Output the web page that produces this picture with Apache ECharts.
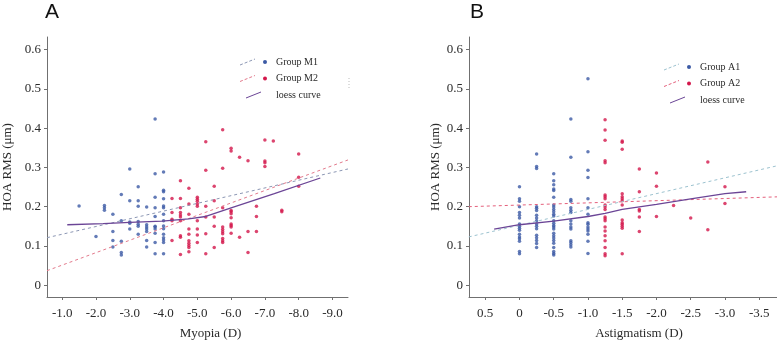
<!DOCTYPE html>
<html>
<head>
<meta charset="utf-8">
<script src="https://cdn.jsdelivr.net/npm/echarts@6/dist/echarts.min.js"></script>
<style>
html,body{margin:0;padding:0;background:#fff;}
#chart{width:777px;height:345px;}
</style>
</head>
<body>
<div id="chart"></div>
<script>
// ---------- Data ----------
const panelTitles = ['A', 'B'];
const xNames = ['Myopia (D)', 'Astigmatism (D)'];
const yName = 'HOA RMS (\u03bcm)';
const legendA = ['Group M1', 'Group M2', 'loess curve'];
const legendB = ['Group A1', 'Group A2', 'loess curve'];

const yTicks = [0, 0.1, 0.2, 0.3, 0.4, 0.5, 0.6];
const xTicksA = [-1, -2, -3, -4, -5, -6, -7, -8, -9];
const xTicksB = [0.5, 0, -0.5, -1, -1.5, -2, -2.5, -3, -3.5];

const groupM1 = [
  [-1.5,0.202],[-2.0,0.124],
  [-2.25,0.203],[-2.25,0.197],[-2.25,0.191],
  [-2.5,0.181],[-2.5,0.137],[-2.5,0.114],[-2.5,0.097],
  [-2.75,0.231],[-2.75,0.164],[-2.75,0.112],[-2.75,0.083],[-2.75,0.077],
  [-3.0,0.296],[-3.0,0.215],[-3.0,0.161],[-3.0,0.158],[-3.0,0.143],
  [-3.25,0.251],[-3.25,0.215],[-3.25,0.201],[-3.25,0.162],[-3.25,0.155],[-3.25,0.150],[-3.25,0.130],
  [-3.5,0.199],[-3.5,0.154],[-3.5,0.148],[-3.5,0.143],[-3.5,0.137],[-3.5,0.114],[-3.5,0.097],
  [-3.75,0.423],[-3.75,0.284],[-3.75,0.224],[-3.75,0.197],[-3.75,0.175],[-3.75,0.150],[-3.75,0.148],[-3.75,0.143],[-3.75,0.132],[-3.75,0.109],[-3.75,0.080],
  [-4.0,0.288],[-4.0,0.242],[-4.0,0.238],[-4.0,0.220],[-4.0,0.202],[-4.0,0.197],[-4.0,0.181],[-4.0,0.164],[-4.0,0.151],[-4.0,0.144],[-4.0,0.130],[-4.0,0.121],[-4.0,0.115],[-4.0,0.109],[-4.0,0.080]
];
const groupM2 = [
  [-4.25,0.221],[-4.25,0.185],[-4.25,0.168],[-4.25,0.164],[-4.25,0.114],
  [-4.5,0.266],[-4.5,0.221],[-4.5,0.197],[-4.5,0.185],[-4.5,0.179],[-4.5,0.174],[-4.5,0.164],[-4.5,0.126],[-4.5,0.122],[-4.5,0.078],
  [-4.75,0.247],[-4.75,0.207],[-4.75,0.181],[-4.75,0.143],[-4.75,0.130],[-4.75,0.113],[-4.75,0.107],[-4.75,0.101],[-4.75,0.096],[-4.75,0.085],
  [-5.0,0.224],[-5.0,0.219],[-5.0,0.214],[-5.0,0.207],[-5.0,0.201],[-5.0,0.164],[-5.0,0.143],[-5.0,0.128],[-5.0,0.109],
  [-5.25,0.365],[-5.25,0.293],[-5.25,0.201],[-5.25,0.174],[-5.25,0.131],[-5.25,0.080],
  [-5.5,0.252],[-5.5,0.215],[-5.5,0.174],[-5.5,0.150],[-5.5,0.096],
  [-5.75,0.396],[-5.75,0.298],[-5.75,0.197],[-5.75,0.148],[-5.75,0.142],[-5.75,0.136],[-5.75,0.131],[-5.75,0.119],[-5.75,0.113],[-5.75,0.109],
  [-6.0,0.349],[-6.0,0.342],[-6.0,0.190],[-6.0,0.187],[-6.0,0.182],[-6.0,0.172],[-6.0,0.156],[-6.0,0.152],[-6.0,0.148],[-6.0,0.132],
  [-6.25,0.326],[-6.25,0.122],
  [-6.5,0.317],[-6.5,0.137],[-6.5,0.083],
  [-6.75,0.201],[-6.75,0.175],[-6.75,0.137],
  [-7.0,0.370],[-7.0,0.316],[-7.0,0.312],[-7.0,0.302],
  [-7.25,0.367],
  [-7.5,0.191],[-7.5,0.187],
  [-8.0,0.334],[-8.0,0.275],[-8.0,0.252]
];
const fitM1 = [[-0.55,0.121],[-9.46,0.296]];
const fitM2 = [[-0.55,0.037],[-9.46,0.319]];
const loessA = [[-1.15,0.154],[-2.21,0.157],[-3.0,0.160],[-3.96,0.163],[-4.74,0.169],[-5.25,0.175],[-6.0,0.197],[-7.28,0.233],[-8.64,0.273]];

const groupA1 = [
  [0,0.251],[0,0.220],[0,0.214],[0,0.200],[0,0.185],[0,0.178],[0,0.171],[0,0.156],[0,0.150],[0,0.145],[0,0.140],[0,0.130],[0,0.123],[0,0.118],[0,0.112],[0,0.086],[0,0.080],
  [-0.25,0.334],[-0.25,0.302],[-0.25,0.297],[-0.25,0.200],[-0.25,0.196],[-0.25,0.190],[-0.25,0.178],[-0.25,0.171],[-0.25,0.164],[-0.25,0.156],[-0.25,0.150],[-0.25,0.144],[-0.25,0.127],[-0.25,0.121],[-0.25,0.114],[-0.25,0.106],[-0.25,0.096],
  [-0.5,0.284],[-0.5,0.266],[-0.5,0.256],[-0.5,0.245],[-0.5,0.241],[-0.5,0.224],[-0.5,0.204],[-0.5,0.199],[-0.5,0.193],[-0.5,0.187],[-0.5,0.181],[-0.5,0.176],[-0.5,0.164],[-0.5,0.158],[-0.5,0.152],[-0.5,0.148],[-0.5,0.143],[-0.5,0.132],[-0.5,0.126],[-0.5,0.120],[-0.5,0.114],[-0.5,0.107],[-0.5,0.096],[-0.5,0.086],[-0.5,0.081],[-0.5,0.077],
  [-0.75,0.423],[-0.75,0.326],[-0.75,0.218],[-0.75,0.214],[-0.75,0.197],[-0.75,0.191],[-0.75,0.185],[-0.75,0.164],[-0.75,0.156],[-0.75,0.148],[-0.75,0.143],[-0.75,0.113],[-0.75,0.109],[-0.75,0.103],[-0.75,0.097],
  [-1.0,0.526],[-1.0,0.340],[-1.0,0.293],[-1.0,0.274],[-1.0,0.220],[-1.0,0.197],[-1.0,0.181],[-1.0,0.159],[-1.0,0.155],[-1.0,0.148],[-1.0,0.143],[-1.0,0.138],[-1.0,0.130],[-1.0,0.112],[-1.0,0.081]
];
const groupA2 = [
  [-1.25,0.421],[-1.25,0.395],[-1.25,0.369],[-1.25,0.317],[-1.25,0.312],[-1.25,0.230],[-1.25,0.225],[-1.25,0.220],[-1.25,0.204],[-1.25,0.199],[-1.25,0.193],[-1.25,0.174],[-1.25,0.169],[-1.25,0.164],[-1.25,0.148],[-1.25,0.138],[-1.25,0.126],[-1.25,0.113],[-1.25,0.096],[-1.25,0.080],[-1.25,0.075],
  [-1.5,0.367],[-1.5,0.364],[-1.5,0.346],[-1.5,0.233],[-1.5,0.225],[-1.5,0.220],[-1.5,0.215],[-1.5,0.204],[-1.5,0.166],[-1.5,0.159],[-1.5,0.155],[-1.5,0.150],[-1.5,0.145],[-1.5,0.080],
  [-1.75,0.296],[-1.75,0.238],[-1.75,0.193],[-1.75,0.189],[-1.75,0.174],[-1.75,0.137],
  [-2.0,0.286],[-2.0,0.252],[-2.0,0.175],
  [-2.25,0.203],
  [-2.5,0.171],
  [-2.75,0.314],[-2.75,0.141],
  [-3.0,0.251],[-3.0,0.208]
];
const fitA1 = [[0.74,0.123],[-3.76,0.304]];
const fitA2 = [[0.74,0.200],[-3.76,0.225]];
const loessB = [[0.37,0.143],[0,0.154],[-0.5,0.163],[-1.0,0.175],[-1.25,0.183],[-1.5,0.193],[-2.0,0.206],[-2.5,0.220],[-3.0,0.233],[-3.31,0.238]];

// ---------- Styles ----------
const BLUE = '#3c5aa5';
const RED = '#d3174b';
const PURPLE = '#6b4596';
const DASH_M1 = '#8c97b4';
const DASH_M2 = '#e37a8c';
const DASH_A1 = '#9cc2cf';
const DASH_A2 = '#e4607c';
const AXIS = '#707070';
const SERIF = '"Liberation Serif","DejaVu Serif",serif';

const chart = echarts.init(document.getElementById('chart'));

function xAxisCfg(idx, min, max, ticks, fmt, name, pad) {
  return {
    type: 'value', gridIndex: idx, inverse: true, min: min, max: max,
    splitLine: {show: false},
    axisLine: {onZero: false, lineStyle: {color: AXIS, width: 1}},
    axisTick: {show: true, length: 3, customValues: ticks, lineStyle: {color: AXIS}},
    axisLabel: {customValues: ticks, formatter: fmt, margin: 10, color: '#2a2a2a', fontFamily: SERIF, fontSize: 13},
    name: name, nameLocation: 'middle', nameGap: 30,
    nameTextStyle: {fontFamily: SERIF, fontSize: 13, color: '#2a2a2a', padding: pad}
  };
}
function yAxisCfg(idx, gap) {
  return {
    type: 'value', gridIndex: idx, min: -0.03, max: 0.632,
    splitLine: {show: false},
    axisLine: {show: true, onZero: false, lineStyle: {color: AXIS, width: 1}},
    axisTick: {show: true, length: 3, customValues: yTicks, lineStyle: {color: AXIS}},
    axisLabel: {customValues: yTicks, formatter: v => (Math.abs(v) < 1e-9 ? '0' : v.toFixed(1)), margin: 6, color: '#2a2a2a', fontFamily: SERIF, fontSize: 13},
    name: yName, nameLocation: 'middle', nameRotate: 90, nameGap: gap,
    nameTextStyle: {fontFamily: SERIF, fontSize: 13, color: '#2a2a2a'}
  };
}
function scatter(name, data, color, idx) {
  return {name: name, type: 'scatter', xAxisIndex: idx, yAxisIndex: idx, data: data,
    symbol: 'circle', symbolSize: 3.5, itemStyle: {color: color}, silent: true, z: 3};
}
function line(name, data, color, idx, dashed, width) {
  return {name: name, type: 'line', xAxisIndex: idx, yAxisIndex: idx, data: data,
    showSymbol: false, symbol: 'none', silent: true, z: 4,
    lineStyle: {color: color, width: width, type: dashed ? [3, 3] : 'solid'}};
}

function legendGraphics(x0, y0, labels, c1, c2) {
  const g = [];
  const rows = [
    {dash: true, color: c1, dot: BLUE},
    {dash: true, color: c2, dot: RED},
    {dash: false, color: PURPLE, dot: null}
  ];
  rows.forEach((r, i) => {
    const y = y0 + i * 16.5;
    const lx = r.dash ? x0 : x0 + 6;
    g.push({type: 'line', shape: {x1: lx, y1: y + 3, x2: lx + 15, y2: y - 3},
      style: {stroke: r.color, lineWidth: 1, lineDash: r.dash ? [3, 2] : null}, silent: true});
    if (r.dot) {
      g.push({type: 'circle', shape: {cx: x0 + 25, cy: y, r: 2}, style: {fill: r.dot}, silent: true});
    }
    g.push({type: 'text', x: x0 + 36, y: y, style: {text: labels[i], font: '10px ' + SERIF, fill: '#2a2a2a', verticalAlign: 'middle'}, silent: true});
  });
  return g;
}

const option = {
  animation: false,
  backgroundColor: '#fff',
  grid: [
    {left: 43, top: 37, width: 305, bottom: 39},
    {left: 469, top: 37, right: 0, bottom: 39}
  ],
  xAxis: [
    xAxisCfg(0, -9.46, -0.55, xTicksA, v => v.toFixed(1), xNames[0], [0, 0, 0, 26]),
    xAxisCfg(1, -3.76, 0.737, xTicksB, v => (Math.abs(v) < 1e-9 ? '0' : v.toFixed(1)), xNames[1], [0, 0, 0, 32])
  ],
  yAxis: [yAxisCfg(0, 33), yAxisCfg(1, 27)],
  series: [
    line('fit M1', fitM1, DASH_M1, 0, true, 1),
    line('fit M2', fitM2, DASH_M2, 0, true, 1),
    scatter(legendA[0], groupM1, BLUE, 0),
    scatter(legendA[1], groupM2, RED, 0),
    line(legendA[2], loessA, PURPLE, 0, false, 1.3),
    line('fit A1', fitA1, DASH_A1, 1, true, 1),
    line('fit A2', fitA2, DASH_A2, 1, true, 1),
    scatter(legendB[0], groupA1, BLUE, 1),
    scatter(legendB[1], groupA2, RED, 1),
    line(legendB[2], loessB, PURPLE, 1, false, 1.3)
  ],
  graphic: [
    {type: 'text', x: 45, y: 2, style: {text: panelTitles[0], font: '21px "Liberation Sans", Arial, sans-serif', fill: '#111'}, silent: true},
    {type: 'text', x: 470, y: 2, style: {text: panelTitles[1], font: '21px "Liberation Sans", Arial, sans-serif', fill: '#111'}, silent: true},
    {type: 'line', shape: {x1: 349, y1: 78, x2: 349, y2: 89}, style: {stroke: '#bbb', lineWidth: 1, lineDash: [1, 2]}, silent: true}
  ].concat(legendGraphics(240, 62, legendA, DASH_M1, DASH_M2))
   .concat(legendGraphics(664, 67, legendB, DASH_A1, DASH_A2))
};
chart.setOption(option);
</script>
</body>
</html>
